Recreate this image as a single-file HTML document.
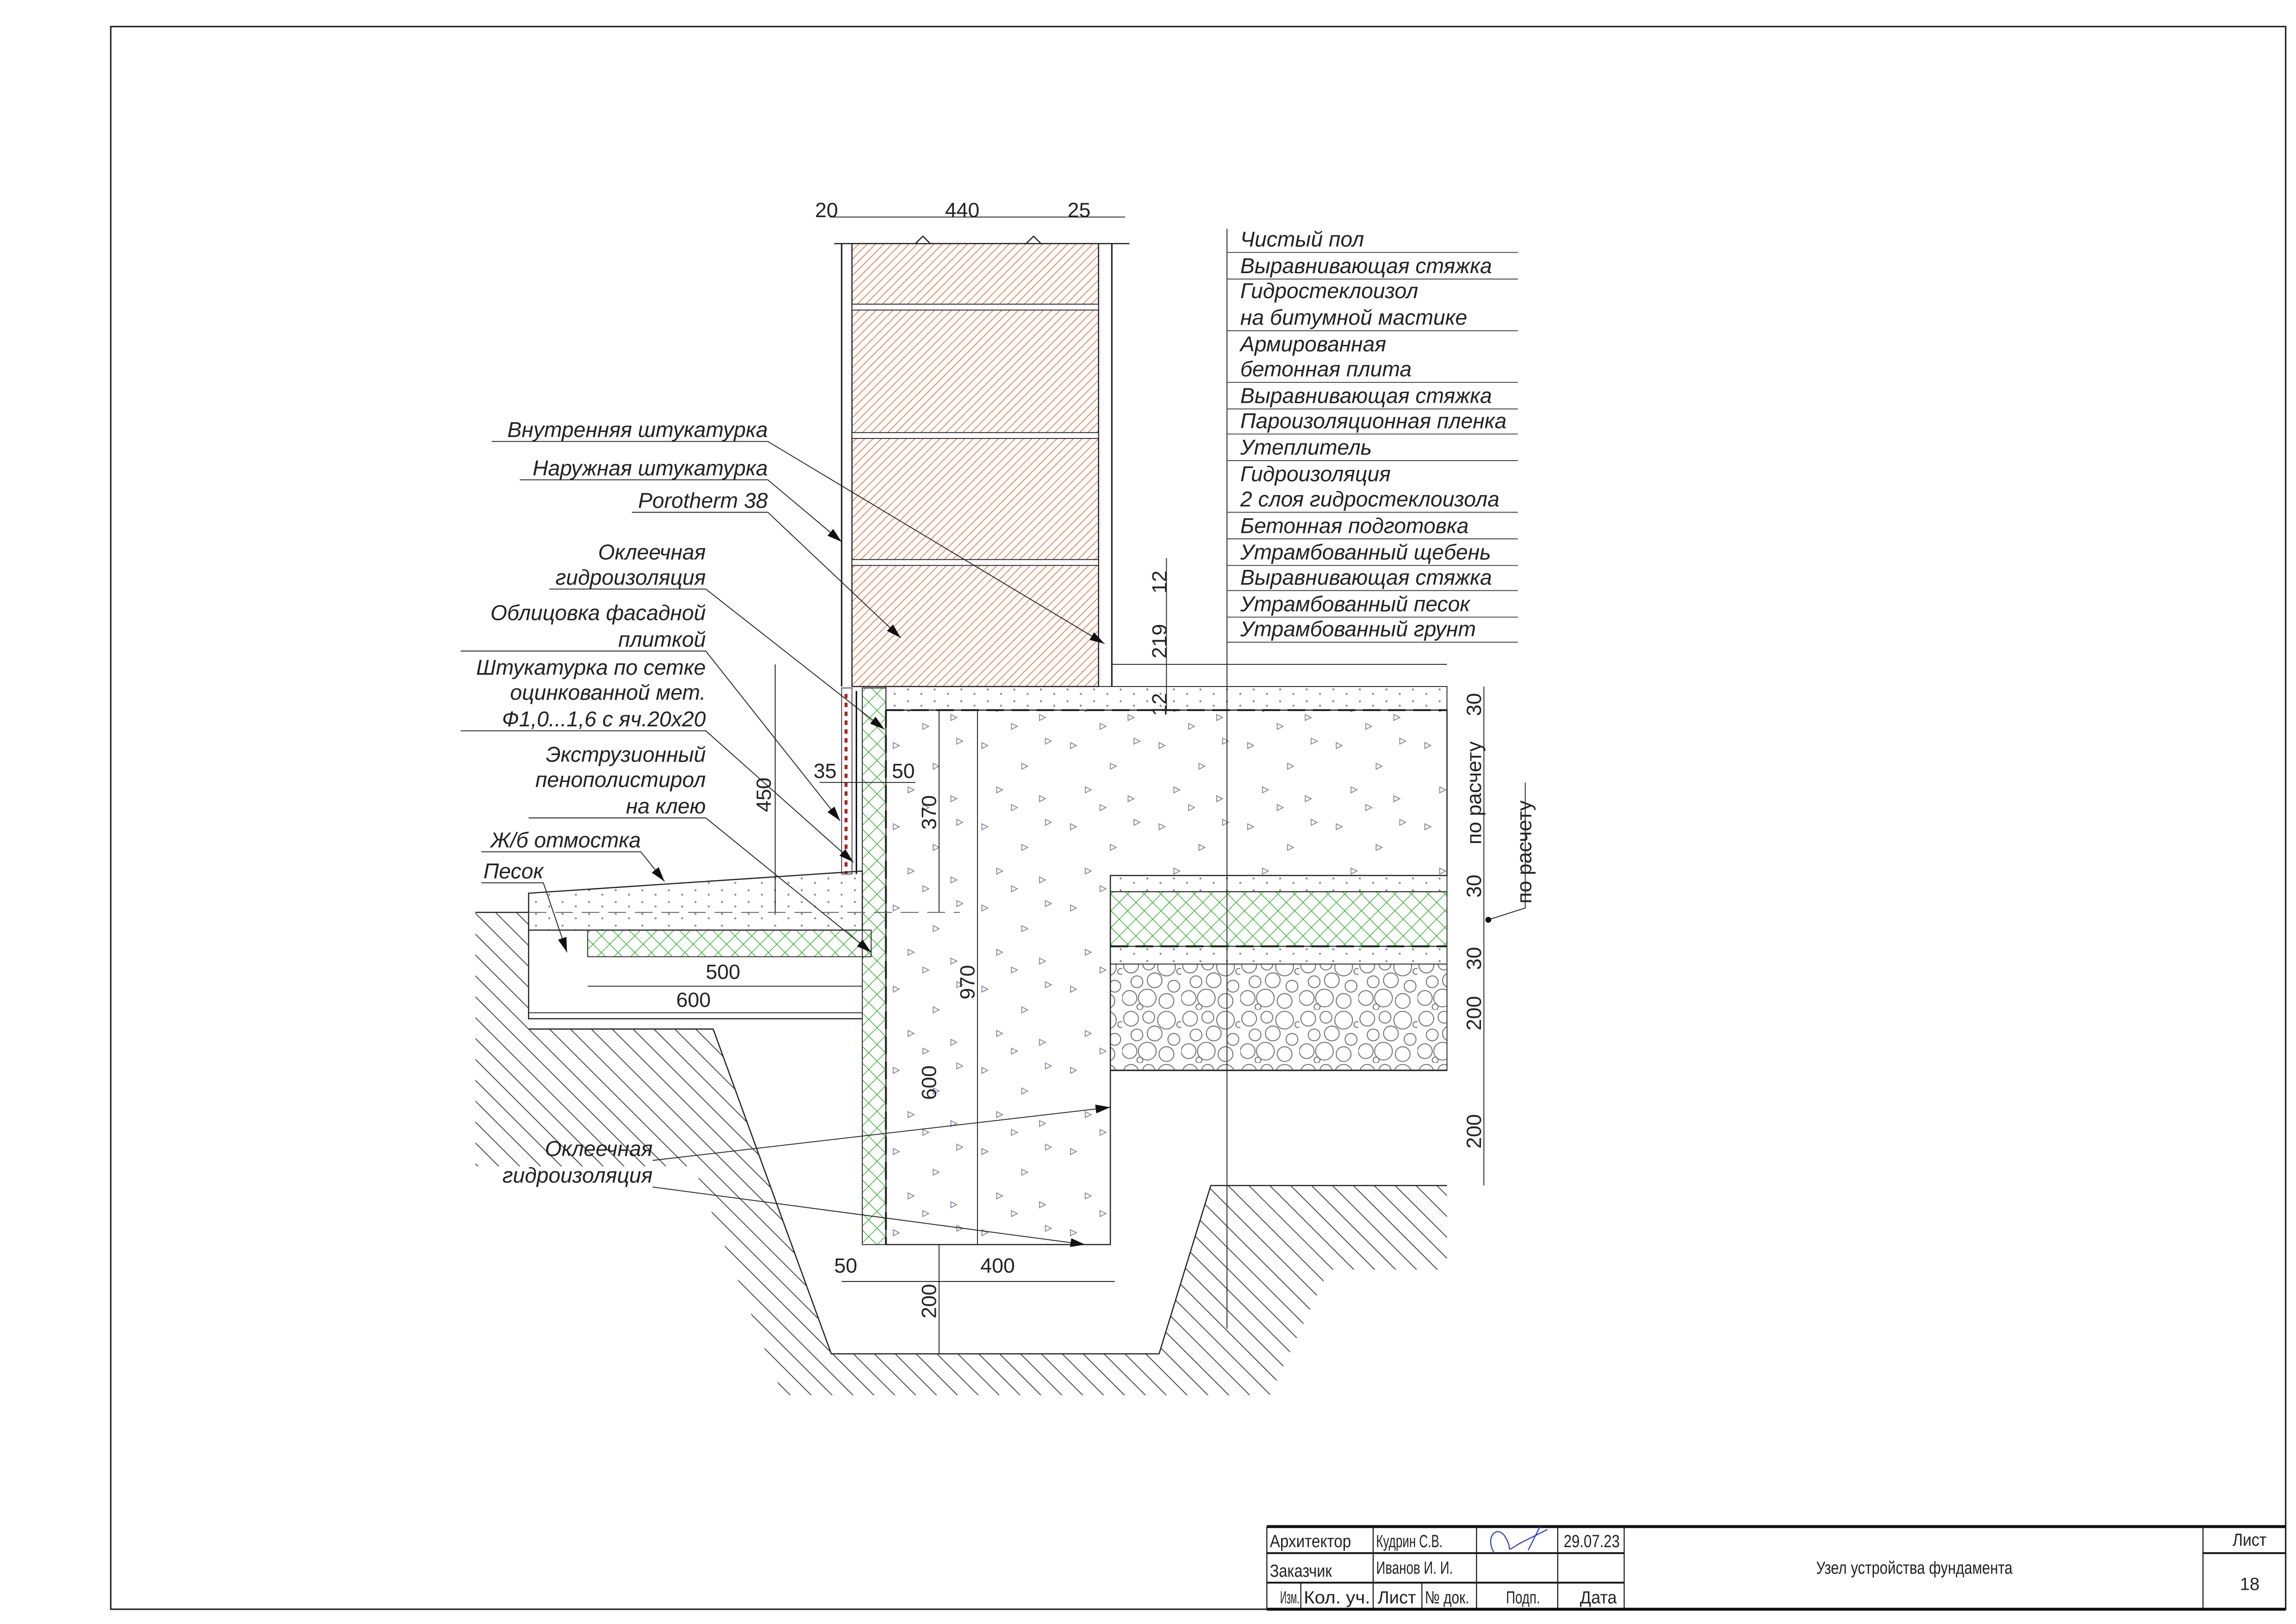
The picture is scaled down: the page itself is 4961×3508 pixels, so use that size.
<!DOCTYPE html>
<html><head><meta charset="utf-8"><style>
html,body{margin:0;padding:0;background:#fff}
svg{display:block}
text{font-family:"Liberation Sans",sans-serif}
.l{font-size:14.5px;font-style:italic;fill:#222}
.d{font-size:14px;fill:#222}
.t{font-size:12px;fill:#222}
</style></head><body>
<svg width="4961" height="3508" viewBox="0 0 1555 1100" preserveAspectRatio="none" xmlns="http://www.w3.org/2000/svg">
<defs>
<pattern id="brick" width="4" height="4" patternUnits="userSpaceOnUse" patternTransform="rotate(45)">
<line x1="0" y1="0" x2="0" y2="4" stroke="#e0602a" stroke-width="0.9"/></pattern>
<pattern id="xps" width="8" height="8" patternUnits="userSpaceOnUse" patternTransform="rotate(45)">
<line x1="0" y1="0" x2="0" y2="8" stroke="#30b030" stroke-width="0.9"/><line x1="0" y1="0" x2="8" y2="0" stroke="#30b030" stroke-width="0.9"/></pattern>
<pattern id="ground" width="10" height="10" patternUnits="userSpaceOnUse" patternTransform="rotate(-45)">
<line x1="0" y1="0" x2="0" y2="10" stroke="#333" stroke-width="1.1"/></pattern>
<pattern id="conc" width="60" height="55" patternUnits="userSpaceOnUse">
<g fill="none" stroke="#889" stroke-width="0.6">
<path d="M5 8 l4 2 -4 2z"/><path d="M32 22 l4 2 -4 2z"/><path d="M48 5 l4 2 -4 2z"/><path d="M15 38 l4 2 -4 2z"/><path d="M44 44 l4 2 -4 2z"/><path d="M25 50 l4 2 -4 2z"/></g></pattern>
<pattern id="dots" width="18" height="8" patternUnits="userSpaceOnUse">
<circle cx="3" cy="3" r="0.7" fill="#889"/><circle cx="12" cy="6" r="0.7" fill="#889"/></pattern>
<pattern id="grav" width="40" height="36" patternUnits="userSpaceOnUse">
<g fill="none" stroke="#666" stroke-width="0.6">
<circle cx="6" cy="6" r="5"/><circle cx="18" cy="5" r="4"/><circle cx="30" cy="7" r="6"/><circle cx="10" cy="17" r="4"/><circle cx="22" cy="16" r="5"/><circle cx="35" cy="20" r="4"/><circle cx="5" cy="28" r="5"/><circle cx="17" cy="28" r="6"/><circle cx="30" cy="30" r="5"/><circle cx="39" cy="10" r="2"/><circle cx="12" cy="34" r="2"/></g></pattern>
<marker id="ar" markerWidth="10" markerHeight="6" refX="10" refY="3" orient="auto" markerUnits="userSpaceOnUse"><path d="M0 0 L10 3 L0 6z" fill="#111"/></marker>
</defs>
<rect x="75" y="18" width="1473" height="1072" fill="none" stroke="#222" stroke-width="1"/>

<path d="M322 618 L358 618 L358 697 L483 697 L563 917 L785 917 L820 803 L980 803 L980 860 L900 860 L860 945 L530 945 L470 790 L322 790 Z" fill="url(#ground)"/>
<path d="M322 618 L358 618 M358 697 L483 697 L563 917 L785 917 L820 803 L980 803" fill="none" stroke="#222" stroke-width="0.8"/>

<rect x="577" y="165" width="167" height="300" fill="url(#brick)" stroke="#222" stroke-width="0.8"/>
<g fill="#fff" stroke="#222" stroke-width="0.6"><rect x="577" y="206" width="167" height="4"/><rect x="577" y="293" width="167" height="4"/><rect x="577" y="379" width="167" height="4"/></g>
<line x1="570" y1="165" x2="570" y2="465" stroke="#222"/>
<line x1="753" y1="165" x2="753" y2="465" stroke="#222"/>
<path d="M565 165 L620 165 L625 160 L630 165 L695 165 L700 160 L705 165 L765 165" fill="none" stroke="#222" stroke-width="0.8"/>

<path d="M600 481 L980 481 L980 593 L752 593 L752 843 L600 843 Z" fill="url(#conc)" stroke="#222" stroke-width="0.8"/>
<rect x="600" y="465" width="380" height="16" fill="url(#dots)" stroke="#222" stroke-width="0.6"/>
<line x1="753" y1="450" x2="980" y2="450" stroke="#222" stroke-width="0.6"/>
<line x1="600" y1="481" x2="980" y2="481" stroke="#222" stroke-width="1.3" stroke-dasharray="12 5"/>
<rect x="752" y="593" width="228" height="11" fill="url(#dots)" stroke="#222" stroke-width="0.6"/>
<rect x="752" y="604" width="228" height="37" fill="url(#xps)" stroke="#222" stroke-width="0.6"/>
<line x1="752" y1="641" x2="980" y2="641" stroke="#222" stroke-width="1.3" stroke-dasharray="12 5"/>
<rect x="752" y="641" width="228" height="12" fill="url(#dots)" stroke="#222" stroke-width="0.6"/>
<rect x="752" y="653" width="228" height="72" fill="url(#grav)" stroke="#222" stroke-width="0.6"/>
<line x1="752" y1="725" x2="980" y2="725" stroke="#222"/>
<line x1="600" y1="481" x2="600" y2="843" stroke="#222" stroke-width="1.3" stroke-dasharray="12 5"/>

<rect x="584" y="466" width="16" height="377" fill="url(#xps)" stroke="#222" stroke-width="0.6"/>
<rect x="570" y="466" width="7" height="126" fill="none" stroke="#222" stroke-width="0.5"/>
<line x1="573" y1="470" x2="573" y2="592" stroke="#a22" stroke-width="2" stroke-dasharray="3 3"/>
<line x1="580" y1="468" x2="580" y2="592" stroke="#111" stroke-width="1"/>

<path d="M358 605 L584 590 L584 630 L358 630 Z" fill="url(#dots)" stroke="#222" stroke-width="0.8"/>
<path d="M398 630 L590 630 L590 648 L398 648 Z" fill="url(#xps)" stroke="#222" stroke-width="0.6"/>
<path d="M358 630 L358 690 L584 690" fill="none" stroke="#222" stroke-width="0.8"/>
<line x1="358" y1="618" x2="650" y2="618" stroke="#666" stroke-width="0.6" stroke-dasharray="12 6"/>

<g stroke="#222" stroke-width="0.6" fill="none">
<line x1="562" y1="147" x2="762" y2="147"/>
<line x1="525" y1="450" x2="525" y2="618"/>
<line x1="555" y1="530" x2="620" y2="530"/>
<line x1="662" y1="481" x2="662" y2="843"/>
<line x1="636" y1="481" x2="636" y2="618"/>
<line x1="636" y1="843" x2="636" y2="917"/>
<line x1="570" y1="868" x2="755" y2="868"/>
<line x1="398" y1="668" x2="584" y2="668"/>
<line x1="358" y1="686" x2="584" y2="686"/>
<line x1="790" y1="378" x2="790" y2="481"/>
<line x1="1005" y1="465" x2="1005" y2="803"/>
<path d="M1008 623 L1033 615 L1033 530"/>
<line x1="831" y1="155" x2="831" y2="900"/>
</g>
<circle cx="1008" cy="623" r="2" fill="#111"/>
<g class="d">
<text x="552" y="147">20</text><text x="640" y="147">440</text><text x="723" y="147">25</text>
<text x="551" y="527">35</text><text x="604" y="527">50</text>
<text x="478" y="663">500</text><text x="458" y="682">600</text>
<text x="565" y="862">50</text><text x="664" y="862">400</text>
<text transform="translate(522 550) rotate(-90)">450</text>
<text transform="translate(634 562) rotate(-90)">370</text>
<text transform="translate(660 677) rotate(-90)">970</text>
<text transform="translate(634 745) rotate(-90)">600</text>
<text transform="translate(634 893) rotate(-90)">200</text>
<text transform="translate(790 402) rotate(-90)">12</text>
<text transform="translate(790 446) rotate(-90)">219</text>
<text transform="translate(790 485) rotate(-90)">12</text>
<text transform="translate(1003 485) rotate(-90)">30</text>
<text transform="translate(1003 572) rotate(-90)">по расчету</text>
<text transform="translate(1003 608) rotate(-90)">30</text>
<text transform="translate(1003 657) rotate(-90)">30</text>
<text transform="translate(1003 698) rotate(-90)">200</text>
<text transform="translate(1003 778) rotate(-90)">200</text>
<text transform="translate(1037 612) rotate(-90)">по расчету</text>
</g>

<g class="l">
<text x="840" y="167">Чистый пол</text>
<text x="840" y="185">Выравнивающая стяжка</text>
<text x="840" y="202">Гидростеклоизол</text>
<text x="840" y="220">на битумной мастике</text>
<text x="840" y="238">Армированная</text>
<text x="840" y="255">бетонная плита</text>
<text x="840" y="273">Выравнивающая стяжка</text>
<text x="840" y="290">Пароизоляционная пленка</text>
<text x="840" y="308">Утеплитель</text>
<text x="840" y="326">Гидроизоляция</text>
<text x="840" y="343">2 слоя гидростеклоизола</text>
<text x="840" y="361">Бетонная подготовка</text>
<text x="840" y="379">Утрамбованный щебень</text>
<text x="840" y="396">Выравнивающая стяжка</text>
<text x="840" y="414">Утрамбованный песок</text>
<text x="840" y="431">Утрамбованный грунт</text>
</g>
<g stroke="#444" stroke-width="0.6">
<line x1="831" y1="171" x2="1028" y2="171"/><line x1="831" y1="189" x2="1028" y2="189"/><line x1="831" y1="224" x2="1028" y2="224"/><line x1="831" y1="259" x2="1028" y2="259"/><line x1="831" y1="277" x2="1028" y2="277"/><line x1="831" y1="294" x2="1028" y2="294"/><line x1="831" y1="312" x2="1028" y2="312"/><line x1="831" y1="347" x2="1028" y2="347"/><line x1="831" y1="365" x2="1028" y2="365"/><line x1="831" y1="383" x2="1028" y2="383"/><line x1="831" y1="400" x2="1028" y2="400"/><line x1="831" y1="418" x2="1028" y2="418"/><line x1="831" y1="435" x2="1028" y2="435"/>
</g>

<g class="l" text-anchor="end">
<text x="520" y="296">Внутренняя штукатурка</text>
<text x="520" y="322">Наружная штукатурка</text>
<text x="520" y="344">Porotherm 38</text>
<text x="478" y="379">Оклеечная</text>
<text x="478" y="396">гидроизоляция</text>
<text x="478" y="420">Облицовка фасадной</text>
<text x="478" y="438">плиткой</text>
<text x="478" y="457">Штукатурка по сетке</text>
<text x="478" y="474">оцинкованной мет.</text>
<text x="478" y="492">Ф1,0...1,6 с яч.20х20</text>
<text x="478" y="516">Экструзионный</text>
<text x="478" y="533">пенополистирол</text>
<text x="478" y="551">на клею</text>
<text x="434" y="574">Ж/б отмостка</text>
<text x="368" y="595">Песок</text>
<text x="442" y="783">Оклеечная</text>
<text x="442" y="801">гидроизоляция</text>
</g>
<g stroke="#222" stroke-width="0.6" fill="none" marker-end="url(#ar)">
<path d="M333 299 L520 299 L748 436"/>
<path d="M352 325 L520 325 L570 367"/>
<path d="M428 347 L520 347 L610 432"/>
<path d="M372 399 L478 399 L599 494"/>
<path d="M312 441 L478 441 L569 556"/>
<path d="M312 495 L478 495 L578 584"/>
<path d="M358 554 L478 554 L590 645"/>
<path d="M326 577 L434 577 L450 597"/>
<path d="M326 598 L368 598 L384 645"/>
<path d="M442 786 L752 750"/>
<path d="M442 804 L735 843"/>
</g>

<g stroke="#111" fill="none">
<line x1="858" y1="1034" x2="1548" y2="1034" stroke-width="2"/>
<line x1="858" y1="1090" x2="1548" y2="1090" stroke-width="2"/>
<line x1="858" y1="1052" x2="1100" y2="1052" stroke-width="1.2"/>
<line x1="858" y1="1072" x2="1100" y2="1072" stroke-width="1.2"/>
<line x1="1492" y1="1052" x2="1548" y2="1052" stroke-width="1.2"/>
<g stroke-width="0.7">
<line x1="858" y1="1034" x2="858" y2="1090"/><line x1="930" y1="1034" x2="930" y2="1090"/><line x1="1000" y1="1034" x2="1000" y2="1090"/><line x1="1055" y1="1034" x2="1055" y2="1090"/><line x1="1100" y1="1034" x2="1100" y2="1090"/><line x1="1492" y1="1034" x2="1492" y2="1090"/>
<line x1="881" y1="1072" x2="881" y2="1090"/><line x1="963" y1="1072" x2="963" y2="1090"/></g>
</g>
<path d="M1012 1052 C1005 1040 1015 1032 1020 1042 C1025 1050 1018 1052 1030 1045 L1048 1036 M1035 1050 L1043 1034" stroke="#2233cc" stroke-width="0.7" fill="none"/>
<g class="t">
<text x="860" y="1048" textLength="55" lengthAdjust="spacingAndGlyphs">Архитектор</text><text x="932" y="1048" textLength="45" lengthAdjust="spacingAndGlyphs">Кудрин С.В.</text><text x="1059" y="1048" textLength="38" lengthAdjust="spacingAndGlyphs">29.07.23</text>
<text x="860" y="1068" textLength="42" lengthAdjust="spacingAndGlyphs">Заказчик</text><text x="932" y="1066" textLength="52" lengthAdjust="spacingAndGlyphs">Иванов И. И.</text>
<text x="867" y="1086" textLength="13" lengthAdjust="spacingAndGlyphs">Изм.</text><text x="883" y="1086" textLength="45" lengthAdjust="spacingAndGlyphs">Кол. уч.</text><text x="933" y="1086" textLength="26" lengthAdjust="spacingAndGlyphs">Лист</text><text x="965" y="1086" textLength="30" lengthAdjust="spacingAndGlyphs">№ док.</text><text x="1020" y="1086" textLength="23" lengthAdjust="spacingAndGlyphs">Подп.</text><text x="1070" y="1086" textLength="25" lengthAdjust="spacingAndGlyphs">Дата</text>
<text x="1230" y="1066" textLength="133" lengthAdjust="spacingAndGlyphs">Узел устройства фундамента</text>
<text x="1512" y="1047" textLength="23" lengthAdjust="spacingAndGlyphs">Лист</text><text x="1517" y="1077">18</text>
</g>
</svg>
</body></html>
